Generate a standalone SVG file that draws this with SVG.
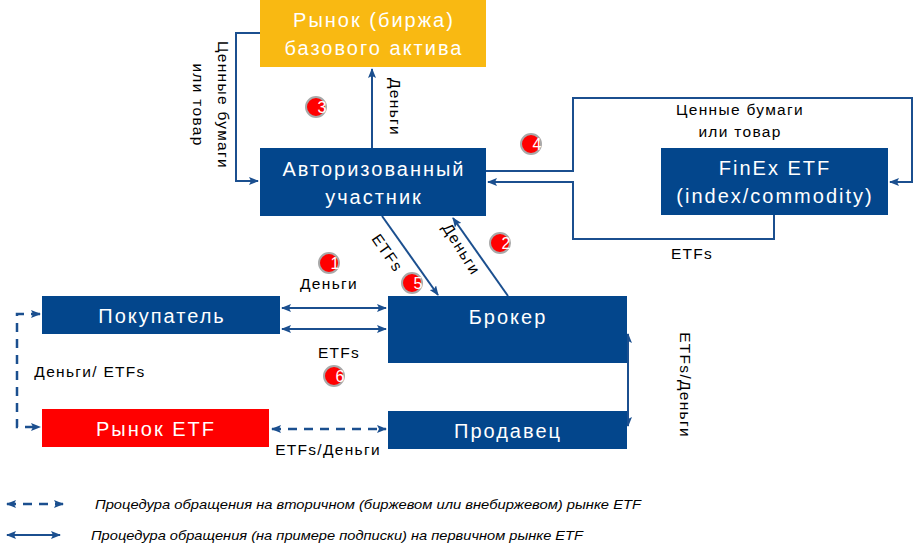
<svg xmlns="http://www.w3.org/2000/svg" width="914" height="549" viewBox="0 0 914 549">
<defs>
<style>
.box{fill:#03468C}
.bt{font-family:"Liberation Sans",Arial,sans-serif;font-size:20px;letter-spacing:2px;fill:#fff;text-anchor:middle}
.lb{font-family:"Liberation Sans",Arial,sans-serif;font-size:15.5px;letter-spacing:1.3px;fill:#000;text-anchor:middle}
.ln{fill:none;stroke:#1B4F8F;stroke-width:2}
.ds{fill:none;stroke:#1B4F8F;stroke-width:2.5;stroke-dasharray:9,7}
.cn circle{fill:#F00;stroke:#A9A9A9;stroke-width:2}
.cn text{font-family:"Liberation Sans",Arial,sans-serif;font-size:16px;fill:#fff;text-anchor:middle}
.lg{font-family:"Liberation Sans",Arial,sans-serif;font-size:13px;font-style:italic;fill:#000}
</style>
<marker id="ah" markerWidth="10" markerHeight="8" refX="9" refY="4" orient="auto-start-reverse" markerUnits="userSpaceOnUse">
<path d="M0,0 L10,4 L0,8 L2,4 Z" fill="#1B4F8F"/>
</marker>
</defs>
<rect width="914" height="549" fill="#fff"/>

<g id="connectors">
<path class="ln" d="M260,33 H236 V181 H258" marker-end="url(#ah)"/>
<path class="ln" d="M372,148 V69" marker-end="url(#ah)"/>
<path class="ln" d="M486,171 H573 V98 H912 V182 H890" marker-end="url(#ah)"/>
<path class="ln" d="M774,215 V239 H573 V182 H488" marker-end="url(#ah)"/>
<path class="ln" d="M382,216 L438,295" marker-end="url(#ah)"/>
<path class="ln" d="M508,296 L453,218" marker-end="url(#ah)"/>
<path class="ln" d="M282,308 H386" marker-start="url(#ah)" marker-end="url(#ah)"/>
<path class="ln" d="M282,329 H386" marker-start="url(#ah)" marker-end="url(#ah)"/>
<path class="ln" d="M628,334 V426" stroke-width="1.5" marker-start="url(#ah)" marker-end="url(#ah)"/>
<path class="ds" d="M40,314 H17 V427 H40" marker-start="url(#ah)" marker-end="url(#ah)"/>
<path class="ds" d="M272,429 H386" marker-start="url(#ah)" marker-end="url(#ah)"/>
<text class="lb" transform="translate(218,105) rotate(90)">Ценные бумаги</text>
<text class="lb" transform="translate(193,105) rotate(90)">или товар</text>
<text class="lb" transform="translate(390,107) rotate(90)">Деньги</text>
<text class="lb" x="740" y="115">Ценные бумаги</text>
<text class="lb" x="740" y="137">или товар</text>
<text class="lb" x="692" y="259">ETFs</text>
<text class="lb" transform="translate(383,256) rotate(55)">ETFs</text>
<text class="lb" transform="translate(457,252) rotate(58)">Деньги</text>
<text class="lb" x="329" y="289">Деньги</text>
<text class="lb" x="339" y="358">ETFs</text>
<text class="lb" x="90" y="377">Деньги/ ETFs</text>
<text class="lb" x="328" y="455">ETFs/Деньги</text>
<text class="lb" transform="translate(680,385) rotate(90)">ETFs/Деньги</text>
</g>

<g id="n-market">
<rect x="260" y="0" width="226" height="67" fill="#F9B912"/>
<text class="bt" x="374" y="27">Рынок (биржа)</text>
<text class="bt" x="374" y="55">базового актива</text>
</g>
<g id="n-ap">
<rect class="box" x="260" y="148" width="226" height="68"/>
<text class="bt" x="374" y="176">Авторизованный</text>
<text class="bt" x="374" y="204">участник</text>
</g>
<g id="n-finex">
<rect class="box" x="661" y="148" width="227" height="67"/>
<text class="bt" x="775" y="175">FinEx ETF</text>
<text class="bt" x="775" y="203">(index/commodity)</text>
</g>
<g id="n-buyer">
<rect class="box" x="42" y="296" width="238" height="38"/>
<text class="bt" x="162" y="323">Покупатель</text>
</g>
<g id="n-broker">
<rect class="box" x="388" y="296" width="239" height="67"/>
<text class="bt" x="508" y="324">Брокер</text>
</g>
<g id="n-etfmarket">
<rect x="42" y="409" width="227" height="38" fill="#FF0000"/>
<text class="bt" x="156" y="436">Рынок ETF</text>
</g>
<g id="n-seller">
<rect class="box" x="388" y="411" width="239" height="38"/>
<text class="bt" x="508" y="438">Продавец</text>
</g>

<g id="c1" class="cn"><circle cx="329" cy="263" r="10"/><text x="335" y="269">1</text></g>
<g id="c2" class="cn"><circle cx="500" cy="243" r="10"/><text x="506" y="249">2</text></g>
<g id="c3" class="cn"><circle cx="316" cy="107" r="10"/><text x="322" y="113">3</text></g>
<g id="c4" class="cn"><circle cx="531" cy="144" r="10"/><text x="537" y="150">4</text></g>
<g id="c5" class="cn"><circle cx="412" cy="283" r="10"/><text x="418" y="289">5</text></g>
<g id="c6" class="cn"><circle cx="334" cy="376" r="10"/><text x="340" y="382">6</text></g>

<g id="legend">
<path class="ds" d="M7,504 H63" stroke-dasharray="12,10" marker-start="url(#ah)" marker-end="url(#ah)"/>
<path class="ln" d="M7,535 H60" stroke-width="2.5" marker-start="url(#ah)" marker-end="url(#ah)"/>
<text class="lg" x="95" y="509" textLength="546" lengthAdjust="spacingAndGlyphs">Процедура обращения на вторичном  (биржевом или внебиржевом) рынке ETF</text>
<text class="lg" x="91" y="540" textLength="492" lengthAdjust="spacingAndGlyphs">Процедура обращения (на примере подписки) на первичном рынке ETF</text>
</g>
</svg>
